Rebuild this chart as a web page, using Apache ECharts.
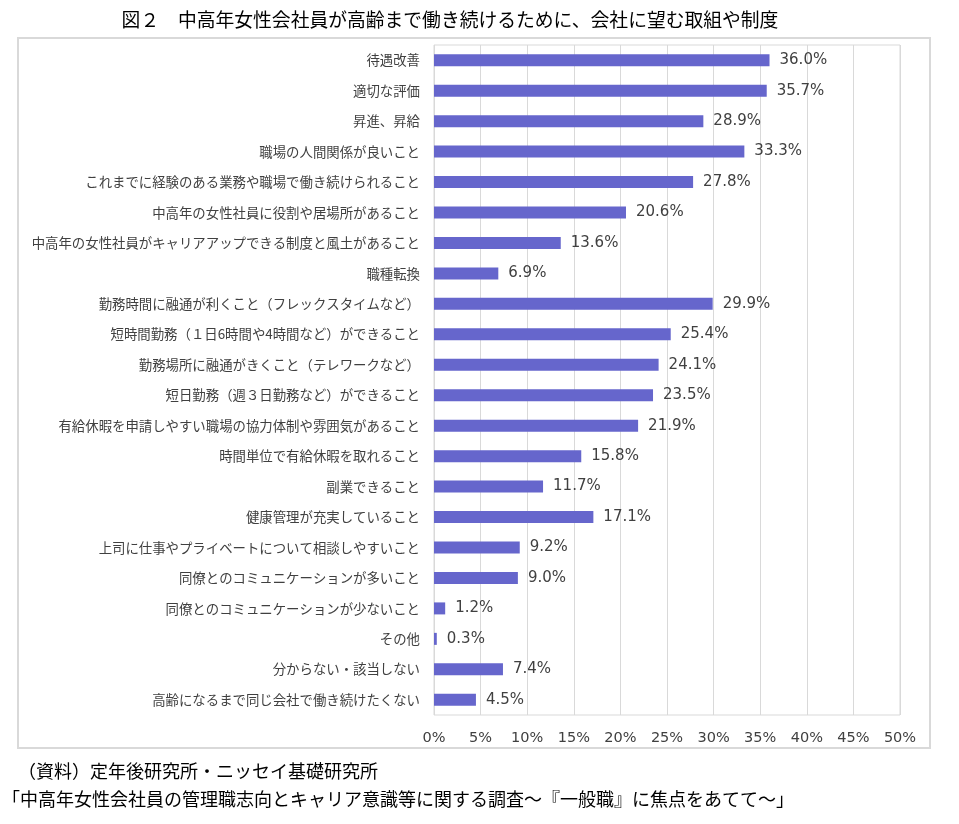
<!DOCTYPE html>
<html><head><meta charset="utf-8">
<script src="https://cdn.jsdelivr.net/npm/echarts@6/dist/echarts.min.js"></script>
<style>html,body{margin:0;padding:0;background:#fff}#c{width:959px;height:824px}</style>
</head><body><div id="c"></div>
<script>
const categories = [
  "待遇改善","適切な評価","昇進、昇給","職場の人間関係が良いこと",
  "これまでに経験のある業務や職場で働き続けられること",
  "中高年の女性社員に役割や居場所があること",
  "中高年の女性社員がキャリアアップできる制度と風土があること",
  "職種転換",
  "勤務時間に融通が利くこと（フレックスタイムなど）",
  "短時間勤務（１日6時間や4時間など）ができること",
  "勤務場所に融通がきくこと（テレワークなど）",
  "短日勤務（週３日勤務など）ができること",
  "有給休暇を申請しやすい職場の協力体制や雰囲気があること",
  "時間単位で有給休暇を取れること","副業できること","健康管理が充実していること",
  "上司に仕事やプライベートについて相談しやすいこと",
  "同僚とのコミュニケーションが多いこと","同僚とのコミュニケーションが少ないこと",
  "その他","分からない・該当しない","高齢になるまで同じ会社で働き続けたくない"
];
const values = [36.0,35.7,28.9,33.3,27.8,20.6,13.6,6.9,29.9,25.4,24.1,23.5,21.9,15.8,11.7,17.1,9.2,9.0,1.2,0.3,7.4,4.5];
const title = "図２　中高年女性会社員が高齢まで働き続けるために、会社に望む取組や制度";
const source1 = "（資料）定年後研究所・ニッセイ基礎研究所";
const source2 = "「中高年女性会社員の管理職志向とキャリア意識等に関する調査～『一般職』に焦点をあてて～」";

const jp = '"Noto Sans CJK JP", sans-serif';
const chart = echarts.init(document.getElementById('c'), null, {renderer:'canvas'});
chart.setOption({
  animation:false,
  backgroundColor:'#fff',
  title:{text:title,left:445,textAlign:'center',top:5,textStyle:{fontFamily:jp,fontSize:18.8,fontWeight:'normal',color:'#000'}},
  grid:{left:434,right:59,top:45,bottom:109,show:true,borderColor:'#d9d9d9',borderWidth:1},
  xAxis:{type:'value',min:0,max:50,interval:5,
    axisLabel:{formatter:'{value}%',fontFamily:'Verdana, "DejaVu Sans", sans-serif',fontSize:14.5,color:'#404040',margin:16},
    axisLine:{show:false},axisTick:{show:false},
    splitLine:{lineStyle:{color:'#d9d9d9',width:1}}},
  yAxis:{type:'category',data:categories,inverse:true,
    axisLine:{show:false},axisTick:{show:false},
    axisLabel:{fontFamily:jp,fontSize:13.4,color:'#404040',margin:14}},
  series:[{type:'bar',data:values,barWidth:12,
    itemStyle:{color:'#6666cc'},
    label:{show:true,position:'right',distance:10,formatter:p=>p.value.toFixed(1)+'%',
      fontFamily:'Verdana, "DejaVu Sans", sans-serif',fontSize:15,color:'#404040'}}],
  graphic:[
    {type:'rect',shape:{x:18,y:38,width:912,height:710},style:{fill:'none',stroke:'#d9d9d9',lineWidth:2},silent:true},
    {type:'text',left:18,top:762,style:{text:source1,font:'18px "Noto Sans CJK JP", sans-serif',fill:'#000'}},
    {type:'text',left:2,top:790,style:{text:source2,font:'18px "Noto Sans CJK JP", sans-serif',fill:'#000'}}
  ]
});
</script></body></html>
